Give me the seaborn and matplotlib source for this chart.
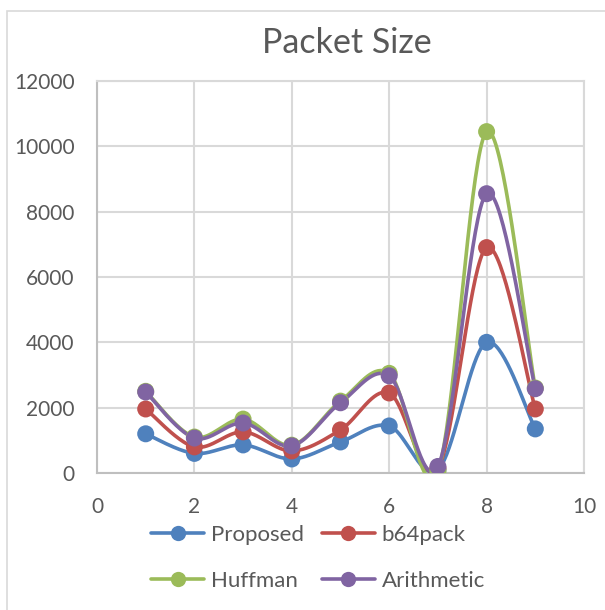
import numpy as np
import pandas as pd
import matplotlib
matplotlib.use("Agg")
import matplotlib.pyplot as plt
from matplotlib.lines import Line2D
from matplotlib.patches import Rectangle
import seaborn as sns

# Packet size per message for each encoding scheme
x_vals = [1, 2, 3, 4, 5, 6, 7, 8, 9]
proposed = [1200, 600, 860, 430, 950, 1440, 100, 4000, 1350]
b64pack = [1960, 800, 1260, 675, 1320, 2450, 150, 6900, 1960]
huffman = [2500, 1100, 1650, 850, 2200, 3050, 60, 10450, 2600]
arithmetic = [2480, 1070, 1530, 830, 2150, 2975, 200, 8550, 2580]

series_names = ["Proposed", "b64pack", "Huffman", "Arithmetic"]
series_values = [proposed, b64pack, huffman, arithmetic]
colors = ["#4F81BD", "#C0504D", "#9BBB59", "#8064A2"]

x_ticks = [0, 2, 4, 6, 8, 10]
y_ticks = [0, 2000, 4000, 6000, 8000, 10000, 12000]


def smooth(xs, ys, n=40):
    """Catmull-Rom style smoothing through every point (like spreadsheet smoothed lines)."""
    xs = np.asarray(xs, float)
    ys = np.asarray(ys, float)
    px = np.concatenate([[xs[0]], xs, [xs[-1]]])
    py = np.concatenate([[ys[0]], ys, [ys[-1]]])
    out_x, out_y = [], []
    t = np.linspace(0, 1, n)
    for i in range(1, len(px) - 2):
        p0x, p1x, p2x, p3x = px[i - 1], px[i], px[i + 1], px[i + 2]
        p0y, p1y, p2y, p3y = py[i - 1], py[i], py[i + 1], py[i + 2]
        c1x, c1y = p1x + (p2x - p0x) / 6, p1y + (p2y - p0y) / 6
        c2x, c2y = p2x - (p3x - p1x) / 6, p2y - (p3y - p1y) / 6
        bx = (1 - t) ** 3 * p1x + 3 * (1 - t) ** 2 * t * c1x + 3 * (1 - t) * t ** 2 * c2x + t ** 3 * p2x
        by = (1 - t) ** 3 * p1y + 3 * (1 - t) ** 2 * t * c1y + 3 * (1 - t) * t ** 2 * c2y + t ** 3 * p2y
        out_x.extend(bx if i == 1 else bx[1:])
        out_y.extend(by if i == 1 else by[1:])
    return np.array(out_x), np.array(out_y)


sns.set_theme(style="white")
plt.rcParams["font.family"] = ["Lato", "DejaVu Sans"]

text_color = "#595959"
grid_color = "#D9D9D9"

W, H = 605, 610
fig = plt.figure(figsize=(W / 100, H / 100), dpi=100)

# outer chart border
fig.patches.append(Rectangle((7 / W, -0.1), 1.2, 1 - 11 / H + 0.1, transform=fig.transFigure,
                             fill=False, edgecolor="#D9D9D9", linewidth=1.2, zorder=0))

left, right, top, bottom = 97, 584, 81, 473
ax = fig.add_axes([left / W, 1 - bottom / H, (right - left) / W, (bottom - top) / H])

for name, vals, col in zip(series_names, series_values, colors):
    sx, sy = smooth(x_vals, vals)
    curve = pd.DataFrame({"x": sx, "y": sy})
    sns.lineplot(data=curve, x="x", y="y", sort=False, estimator=None, color=col,
                 linewidth=2.6, ax=ax, zorder=3)
    pts = pd.DataFrame({"x": x_vals, "y": vals})
    sns.scatterplot(data=pts, x="x", y="y", color=col, s=150, edgecolor="none",
                    ax=ax, zorder=4)

ax.set_xlim(0, 10)
ax.set_ylim(0, 12000)
ax.set_xticks(x_ticks)
ax.set_yticks(y_ticks)
ax.set_xticklabels([str(v) for v in x_ticks])
ax.set_yticklabels([str(v) for v in y_ticks])
ax.set_xlabel("")
ax.set_ylabel("")
ax.grid(True, color=grid_color, linewidth=1.5)
ax.set_axisbelow(True)
for side in ["top", "right"]:
    ax.spines[side].set_color(grid_color)
    ax.spines[side].set_linewidth(1.5)
for side in ["left", "bottom"]:
    ax.spines[side].set_color("#BFBFBF")
    ax.spines[side].set_linewidth(1.5)
ax.tick_params(axis="both", length=0, labelsize=15, labelcolor=text_color)
ax.tick_params(axis="y", pad=16)
ax.tick_params(axis="x", pad=17)

fig.text(347 / W, 1 - 43 / H, "Packet Size", ha="center", va="center",
         fontsize=24.5, color=text_color)

# legend filled row by row: Proposed, b64pack / Huffman, Arithmetic
order = [0, 2, 1, 3]
handles = [Line2D([0], [0], color=colors[i], linewidth=2.6, marker="o", markersize=11,
                  markeredgewidth=0) for i in order]
labels = [series_names[i] for i in order]
leg = fig.legend(handles, labels, loc="center", ncol=2,
                 bbox_to_anchor=(318 / W, 1 - 558 / H), frameon=False,
                 fontsize=16, handlelength=2.4, handletextpad=0.3,
                 columnspacing=0.8, labelspacing=1.15, labelcolor=text_color)

fig.savefig("out.png", dpi=100)
